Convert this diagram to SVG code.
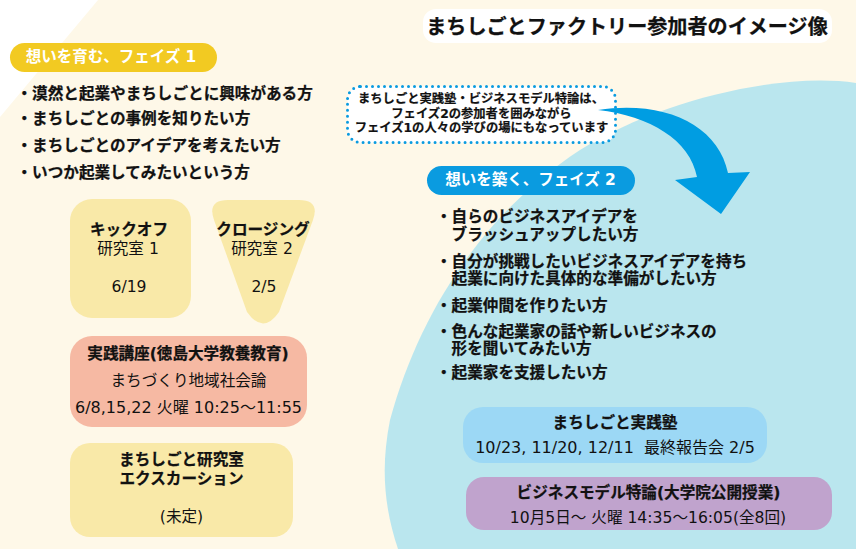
<svg xmlns="http://www.w3.org/2000/svg" width="856" height="549" viewBox="0 0 856 549">
<style>
text{font-family:"DejaVu Sans","Noto Sans CJK JP",sans-serif;fill:#111;text-anchor:middle;font-size:15.600px}
.b{font-weight:700;stroke:#111;stroke-width:.25px}
.l{text-anchor:start;font-weight:700;stroke:#111;stroke-width:.25px}
.y{fill:#f9e9a8}
.n{font-size:12.300px;font-weight:700;stroke:#111;stroke-width:.2px}
.w{fill:#fff;font-weight:700;font-size:15.500px}
.d{font-size:16px}
</style>
<rect width="856" height="549" fill="#fff"/>
<path d="M0 117L98 0H856V549H0Z" fill="#fef8e8"/>
<path d="M856 83C780 72 660 100 580 150C485 212 420 310 390 420C380 470 385 510 398 549H856Z" fill="#bae6ee"/>
<g id="title"><rect x="423" y="9" width="409" height="34" rx="13" fill="#fff"/><text x="627" y="34" class="b" style="font-size:20.100px">まちしごとファクトリー参加者のイメージ像</text></g>
<g id="phase1"><rect x="10" y="43" width="207" height="29" rx="14.500" fill="#f2ca22"/><text x="111" y="62" class="w">想いを育む、フェイズ 1</text></g>
<g id="list1"><text class="l" x="16.500" y="99">・漠然と起業やまちしごとに興味がある方</text><text class="l" x="16.500" y="124">・まちしごとの事例を知りたい方</text><text class="l" x="16.500" y="151">・まちしごとのアイデアを考えたい方</text><text class="l" x="16.500" y="178">・いつか起業してみたいという方</text></g>
<g id="kickoff"><rect class="y" x="70" y="199" width="121" height="119" rx="22"/><text class="b" x="129" y="235">キックオフ</text><text x="128" y="254">研究室 1</text><text x="129" y="292">6/19</text></g>
<g id="closing"><path class="y" d="M228 200H299Q320 200 313 220L279 312Q263 335 247 312L214 220Q207 200 228 200Z"/><text class="b" x="263" y="235">クロージング</text><text x="262" y="254">研究室 2</text><text x="264" y="292">2/5</text></g>
<g id="lecture"><rect x="70" y="336" width="237" height="91" rx="22" fill="#f6b9a3"/><text class="b" x="188" y="359">実践講座(徳島大学教養教育)</text><text x="188.500" y="386">まちづくり地域社会論</text><text x="188.500" y="413" class="d">6/8,15,22 火曜 10:25～11:55</text></g>
<g id="excursion"><rect class="y" x="70" y="443" width="223" height="94" rx="20"/><text class="b" x="181.500" y="465">まちしごと研究室</text><text class="b" x="181.500" y="484">エクスカーション</text><text x="181.500" y="522">(未定)</text></g>
<g id="note"><rect x="347.500" y="86.500" width="268" height="56" rx="13" fill="#fff" stroke="#0a9be0" stroke-width="3" stroke-dasharray="0 6" stroke-linecap="round"/><text x="481" y="103" class="n">まちしごと実践塾・ビジネスモデル特論は、</text><text x="481.500" y="117.500" class="n">フェイズ2の参加者を囲みながら</text><text x="481.500" y="132" class="n">フェイズ1の人々の学びの場にもなっています</text></g>
<g id="connectors"><path d="M598 110C665 100 718 125 728 173L750 172L721 214L675 180L697 177C690 140 650 116 598 110Z" fill="#009de2"/></g>
<g id="phase2"><rect x="427" y="166" width="208" height="29" rx="14.500" fill="#0a9be0"/><text x="530.500" y="185" class="w">想いを築く、フェイズ 2</text></g>
<g id="list2"><text class="l" x="436" y="222">・自らのビジネスアイデアを</text><text class="l" x="451.600" y="240">ブラッシュアップしたい方</text><text class="l" x="436" y="267">・自分が挑戦したいビジネスアイデアを持ち</text><text class="l" x="451.600" y="284">起業に向けた具体的な準備がしたい方</text><text class="l" x="436" y="311">・起業仲間を作りたい方</text><text class="l" x="436" y="337">・色んな起業家の話や新しいビジネスの</text><text class="l" x="451.600" y="354">形を聞いてみたい方</text><text class="l" x="436" y="378">・起業家を支援したい方</text></g>
<g id="juku"><rect x="463" y="407" width="304" height="56" rx="20" fill="#9cd8f5"/><text class="b" x="615" y="428">まちしごと実践塾</text><text x="615" y="453" class="d">10/23, 11/20, 12/11 &#160;最終報告会 2/5</text></g>
<g id="biz"><rect x="466" y="477" width="366" height="53" rx="18" fill="#c0a3cd"/><text class="b" x="648.500" y="498">ビジネスモデル特論(大学院公開授業)</text><text x="648" y="523">10月5日～ 火曜 14:35～16:05(全8回)</text></g>
</svg>
